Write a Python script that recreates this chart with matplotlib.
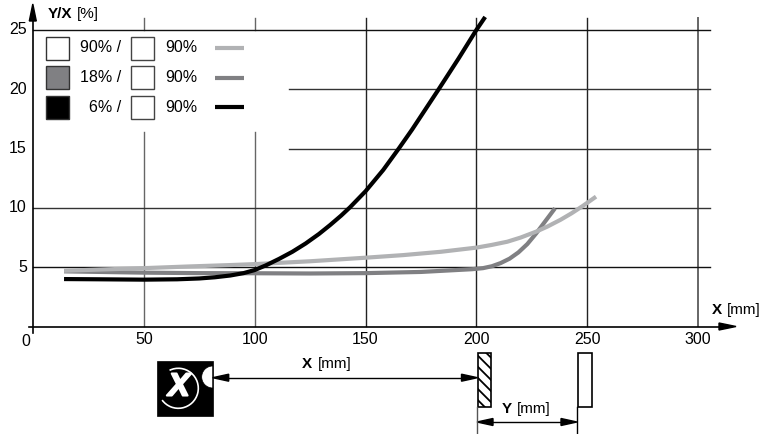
import matplotlib
matplotlib.use('Agg')
import matplotlib.pyplot as plt
import matplotlib.patheffects as pe
from matplotlib.patches import Rectangle, Wedge, Arc, Polygon

plt.rcParams['font.family'] = ['Liberation Sans', 'DejaVu Sans']
plt.rcParams['hatch.linewidth'] = 1.3

# curves: X [mm], Y/X [%]
light_x = [14, 30, 50, 70, 89, 100, 125, 150, 167, 184, 200, 207, 214, 220, 227, 232, 238, 243, 248, 254]
light_y = [4.7, 4.8, 4.92, 5.06, 5.18, 5.26, 5.5, 5.8, 6.02, 6.3, 6.65, 6.88, 7.15, 7.5, 8.0, 8.42, 9.0, 9.55, 10.16, 10.95]
mid_x = [14, 50, 75, 100, 125, 150, 175, 191, 198, 203, 207, 211, 215, 219, 223, 227, 231, 235.5]
mid_y = [4.65, 4.54, 4.5, 4.49, 4.47, 4.5, 4.6, 4.76, 4.83, 4.92, 5.08, 5.35, 5.72, 6.25, 6.95, 7.85, 8.85, 9.97]
dark_x = [14, 30, 50, 65, 75, 82, 89, 95, 100, 105, 111, 117, 123, 129, 134, 139, 143, 150, 158, 165, 171, 183, 192, 200, 204]
dark_y = [4.0, 3.98, 3.95, 3.98, 4.05, 4.15, 4.3, 4.5, 4.76, 5.15, 5.7, 6.3, 7.0, 7.8, 8.55, 9.35, 10.05, 11.4, 13.2, 15.0, 16.6, 20.0, 22.6, 25.0, 26.1]

x_ticks = [50, 100, 150, 200, 250, 300]
y_ticks = [5, 10, 15, 20, 25]
legend_left = ['90% /', '18% /', '6% /']
legend_right = ['90%', '90%', '90%']
legend_fill = ['white', '#808083', 'black']
curve_colors = ['#b1b2b4', '#808083', 'black']

W, H = 762, 434
fig = plt.figure(figsize=(W / 100, H / 100), dpi=100)

# main axes, placed so that 0/0 and 300/25 land on the right pixels
ax = fig.add_axes([33 / W, 1 - 326.5 / H, 698 / W - 33 / W, (326.5 - 30) / H])
ax.set_xlim(0, 300)
ax.set_ylim(0, 25)
for s in ax.spines.values():
    s.set_visible(False)
ax.set_xticks([])
ax.set_yticks([])
ax.patch.set_visible(False)

# overlay in pixel coordinates for the grid, legend and the sensor sketch
bg = fig.add_axes([0, 0, 1, 1])
ov = fig.add_axes([0, 0, 1, 1])
for a in (bg, ov):
    a.set_xlim(0, W)
    a.set_ylim(H, 0)
    a.axis('off')
    a.patch.set_visible(False)
bg.set_zorder(1)
ax.set_zorder(2)
ov.set_zorder(3)


def px_x(v):
    return 33 + v * (698 - 33) / 300


def px_y(v):
    return 326.5 - v * (326.5 - 30) / 25


# grid, with the gap left for the legend
for v in x_ticks:
    col = '#666666' if v in (50, 100, 300) else '#222222'
    lw = 1.4 if v == 300 else 1.0
    if v in (50, 100):
        bg.plot([px_x(v)] * 2, [18, 30], color=col, lw=lw)
        bg.plot([px_x(v)] * 2, [131.5, 326], color=col, lw=lw)
    else:
        bg.plot([px_x(v)] * 2, [18, 326], color=col, lw=lw)
for v in y_ticks:
    start = 289 if v in (15, 20) else 33
    col = '#111111' if v in (5, 25) else '#333333'
    bg.plot([start, 710], [px_y(v)] * 2, color=col, lw=1.0)

# mid first: the light curve lies over it where they cross
for i in (1, 0, 2):
    xs = [light_x, mid_x, dark_x][i]
    ys = [light_y, mid_y, dark_y][i]
    ax.plot(xs, ys, color=curve_colors[i], lw=3.0, clip_on=False,
            solid_capstyle='butt', solid_joinstyle='round')

# axes and arrow heads
ov.plot([33, 33], [20, 333], color='black', lw=1.2)
ov.plot([29, 722], [326.5, 326.5], color='black', lw=1.2)
ov.add_patch(Polygon([[32.8, 4], [29.3, 21], [36.3, 21]], closed=True, color='black'))
ov.add_patch(Polygon([[736, 326.5], [719, 323], [719, 330]], closed=True, color='black'))

for v in x_ticks:
    ov.text(px_x(v), 339, str(v), ha='center', va='center', fontsize=11.5)
ov.text(25.7, 341.5, '0', ha='center', va='center', fontsize=11.5)
for v in y_ticks:
    ov.text(27, px_y(v), str(v), ha='right', va='center', fontsize=11.5)

ov.text(47.5, 14, 'Y/X', fontweight='bold', fontsize=11, ha='left', va='center')
ov.text(77, 14, '[%]', fontsize=11, ha='left', va='center')
ov.text(711.5, 310, 'X', fontweight='bold', fontsize=11, ha='left', va='center')
ov.text(726.5, 310, '[mm]', fontsize=11, ha='left', va='center')

# legend
for i in range(3):
    yc = 48 + i * 29.5
    ov.add_patch(Rectangle((45.5, yc - 11.5), 23, 23, fc=legend_fill[i], ec='#333333', lw=1.0))
    ov.add_patch(Rectangle((130.5, yc - 11.5), 23, 23, fc='white', ec='#444444', lw=1.0))
    ov.text(121, yc, legend_left[i], ha='right', va='center', fontsize=11.5)
    ov.text(165, yc, legend_right[i], ha='left', va='center', fontsize=11.5)
    ov.plot([215, 244], [yc, yc], color=curve_colors[i], lw=3.0, solid_capstyle='butt')

# sensor sketch
ov.add_patch(Rectangle((157.3, 361), 55.4, 55, fc='black', ec='black', lw=0.5))
ov.add_patch(Wedge((212.7, 377), 11, 90, 270, fc='white', ec='black', lw=0.5))
ov.add_patch(Arc((178.3, 388.3), 40, 40, theta1=-116, theta2=144, ec='white', lw=1.2))
ov.text(179, 387.5, 'X', color='white', fontsize=23, fontweight='bold', fontstyle='italic',
        ha='center', va='center',
        path_effects=[pe.withStroke(linewidth=1.5, foreground='white')])

ov.add_patch(Rectangle((477.7, 352.7), 13.7, 54.6, fc='white', ec='black', lw=1.2, hatch='\\\\\\'))
ov.add_patch(Rectangle((577.7, 352.7), 14, 54.6, fc='white', ec='black', lw=1.2))
ov.plot([476.7, 476.7], [407, 434], color='#555555', lw=1.0)
ov.plot([577, 577], [407, 434], color='black', lw=1.0)


def dim_arrow(x0, x1, y):
    ov.plot([x0 + 10, x1 - 10], [y, y], color='black', lw=1.0)
    ov.add_patch(Polygon([[x0, y], [x0 + 16, y - 3.5], [x0 + 16, y + 3.5]], closed=True, color='black'))
    ov.add_patch(Polygon([[x1, y], [x1 - 16, y - 3.5], [x1 - 16, y + 3.5]], closed=True, color='black'))


dim_arrow(212.7, 477.5, 377.7)
dim_arrow(477, 577, 422)

ov.text(302, 364, 'X', fontweight='bold', fontsize=11, ha='left', va='center')
ov.text(317.5, 364, '[mm]', fontsize=11, ha='left', va='center')
ov.text(502, 409, 'Y', fontweight='bold', fontsize=11, ha='left', va='center')
ov.text(517.3, 409, '[mm]', fontsize=11, ha='left', va='center')

fig.savefig('out.png', dpi=100)
